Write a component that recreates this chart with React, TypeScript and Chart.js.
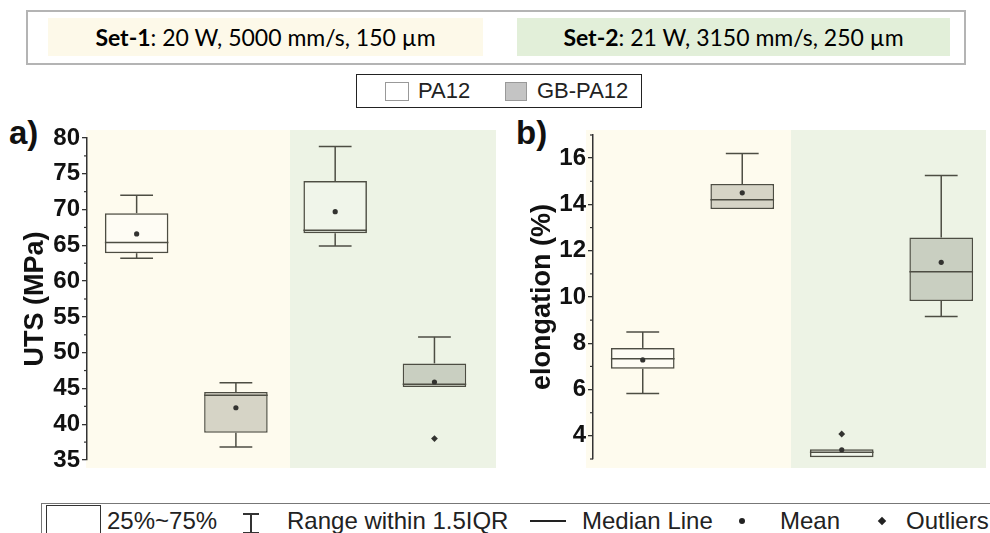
import React, { useEffect, useRef } from "react";
import { Chart, registerables } from "chart.js";
Chart.register(...registerables);

// ---- data ----
const groups = ["PA12", "GB-PA12", "PA12", "GB-PA12"];
const sets = ["Set-1", "Set-1", "Set-2", "Set-2"];
const xPositions = [1, 2, 3, 4];

const utsMin = [63.2, 36.8, 64.9, 45.2];
const utsQ1 = [63.9, 38.8, 66.7, 45.2];
const utsMedian = [65.4, 44.05, 67.1, 45.6];
const utsQ3 = [69.5, 44.5, 74.0, 48.5];
const utsMax = [72.0, 45.8, 78.8, 52.2];
const utsMean = [66.6, 42.3, 69.7, 45.9];
const utsOutlierX = [4];
const utsOutlierY = [38.0];

const elMin = [5.83, 13.8, 3.08, 9.16];
const elQ1 = [6.9, 13.8, 3.08, 9.83];
const elMedian = [7.33, 14.2, 3.29, 11.09];
const elQ3 = [7.8, 14.88, 3.42, 12.57];
const elMax = [8.49, 16.2, 3.42, 15.25];
const elMean = [7.28, 14.5, 3.4, 11.5];
const elOutlierX = [3];
const elOutlierY = [4.08];

const utsMajorTicks = [35, 40, 45, 50, 55, 60, 65, 70, 75, 80];
const utsMinorTicks = [37.5, 42.5, 47.5, 52.5, 57.5, 62.5, 67.5, 72.5, 77.5];
const elMajorTicks = [4, 6, 8, 10, 12, 14, 16];
const elMinorTicks = [3, 5, 7, 9, 11, 13, 15, 17];

const boxFills = ["rgba(255,255,255,0.35)", "#d6d4c6", "rgba(255,255,255,0.2)", "#c9cfc1"];

const LINE = "#4d4d43";
const YELLOW = "#fefbee";
const GREEN = "#edf3e5";
const AXIS_FONT = "'Liberation Sans', Arial, sans-serif";

const boxPlotPlugin = {
  id: "boxPlotExtras",
  beforeDraw(chart: any, _args: any, o: any) {
    const { ctx } = chart;
    const xs = chart.scales.x;
    ctx.save();
    for (const b of o.bands) {
      const x0 = xs.getPixelForValue(b.from);
      const x1 = xs.getPixelForValue(b.to);
      ctx.fillStyle = b.color;
      ctx.fillRect(x0, o.bandTop, x1 - x0, o.bandBottom - o.bandTop);
    }
    ctx.restore();
  },
  afterDatasetDraw(chart: any, args: any, o: any) {
    if (args.index !== 0) return;
    const { ctx } = chart;
    const xs = chart.scales.x;
    const ys = chart.scales.y;
    const meta = chart.getDatasetMeta(0);
    ctx.save();
    ctx.strokeStyle = LINE;
    ctx.lineWidth = 1.5;
    o.pos.forEach((p: number, i: number) => {
      const cx = xs.getPixelForValue(p);
      const cl = xs.getPixelForValue(p - o.capHalf);
      const cr = xs.getPixelForValue(p + o.capHalf);
      const seg = (x0: number, y0: number, x1: number, y1: number) => {
        ctx.beginPath();
        ctx.moveTo(x0, y0);
        ctx.lineTo(x1, y1);
        ctx.stroke();
      };
      if (o.max[i] > o.q3[i]) {
        const yq = ys.getPixelForValue(o.q3[i]);
        const ym = ys.getPixelForValue(o.max[i]);
        seg(cx, yq, cx, ym);
        seg(cl, ym, cr, ym);
      }
      if (o.min[i] < o.q1[i]) {
        const yq = ys.getPixelForValue(o.q1[i]);
        const ym = ys.getPixelForValue(o.min[i]);
        seg(cx, yq, cx, ym);
        seg(cl, ym, cr, ym);
      }
      const bar = meta.data[i];
      const ymed = ys.getPixelForValue(o.median[i]);
      seg(bar.x - bar.width / 2, ymed, bar.x + bar.width / 2, ymed);
    });
    ctx.restore();
  },
  afterDraw(chart: any, _args: any, o: any) {
    const { ctx } = chart;
    const ys = chart.scales.y;
    const left = chart.chartArea.left;
    ctx.save();
    ctx.strokeStyle = "#333";
    ctx.lineWidth = 1.2;
    for (const v of o.minorTicks) {
      const y = ys.getPixelForValue(v);
      ctx.beginPath();
      ctx.moveTo(left - 3, y);
      ctx.lineTo(left, y);
      ctx.stroke();
    }
    ctx.restore();
  },
};

function BoxChart(props: any) {
  const ref = useRef<HTMLCanvasElement>(null);
  useEffect(() => {
    const p = props;
    const chart = new Chart(ref.current as HTMLCanvasElement, {
      type: "bar",
      data: {
        datasets: [
          {
            type: "bar",
            order: 2,
            data: xPositions.map((x, i) => ({ x, y: [p.q1[i], p.q3[i]] })),
            backgroundColor: boxFills,
            borderColor: LINE,
            borderWidth: 1.5,
            borderSkipped: false,
            categoryPercentage: 1,
            barPercentage: 0.64,
          } as any,
          {
            type: "scatter",
            order: 1,
            data: xPositions.map((x, i) => ({ x, y: p.mean[i] })),
            pointStyle: "circle",
            pointRadius: 2.6,
            pointBackgroundColor: "#333330",
            pointBorderWidth: 0,
          } as any,
          {
            type: "scatter",
            order: 0,
            data: p.outX.map((x: number, i: number) => ({ x, y: p.outY[i] })),
            pointStyle: "rectRot",
            pointRadius: 3.4,
            pointBackgroundColor: "#333330",
            pointBorderWidth: 0,
          } as any,
        ],
      },
      options: {
        animation: false,
        responsive: true,
        maintainAspectRatio: false,
        layout: { padding: p.padding },
        plugins: {
          legend: { display: false },
          tooltip: { enabled: false },
          boxPlotExtras: {
            pos: xPositions,
            min: p.min,
            q1: p.q1,
            median: p.median,
            q3: p.q3,
            max: p.max,
            capHalf: 0.165,
            bands: p.bands,
            bandTop: 20,
            bandBottom: 358,
            minorTicks: p.minorTicks,
          },
        } as any,
        scales: {
          x: {
            type: "linear",
            display: false,
            min: 0.5,
            max: p.xMax,
            offset: false,
            afterBuildTicks: (s: any) => {
              s.ticks = xPositions.map((v) => ({ value: v }));
            },
          },
          y: {
            type: "linear",
            min: p.yMin,
            max: p.yMax,
            afterFit: (s: any) => {
              s.width = p.axisWidth;
            },
            afterBuildTicks: (s: any) => {
              s.ticks = p.majorTicks.map((v: number) => ({ value: v }));
            },
            grid: {
              drawOnChartArea: false,
              drawTicks: true,
              tickLength: 5,
              color: "#333",
              lineWidth: 1.3,
            },
            border: { display: true, color: "#333", width: 1.5 },
            ticks: {
              color: "#111",
              padding: 2,
              font: { family: AXIS_FONT, size: 24, weight: "bold" },
            },
            title: {
              display: true,
              text: p.title,
              color: "#111",
              font: { family: AXIS_FONT, size: 27, weight: "bold" },
              padding: { top: p.titlePad, bottom: 0 },
            },
          },
        },
      },
      plugins: [boxPlotPlugin as any],
    });
    return () => chart.destroy();
  }, []);
  return (
    <div style={{ position: "absolute", left: props.left, top: props.top, width: props.width, height: props.height }}>
      <canvas ref={ref} />
    </div>
  );
}

const abs = (l: number, t: number, extra: any = {}) => ({ position: "absolute" as const, left: l, top: t, ...extra });

export default function App() {
  const legendFont = { fontFamily: AXIS_FONT, fontSize: 22, color: "#222", lineHeight: "22px" };
  const keyFont = { fontFamily: AXIS_FONT, fontSize: 24, color: "#222", lineHeight: "24px", whiteSpace: "nowrap" as const };
  return (
    <div style={{ position: "absolute", left: 0, top: 0, width: 990, height: 533, background: "#fff", overflow: "hidden" }}>
      {/* header */}
      <div style={abs(26, 10, { width: 940, height: 55, border: "2px solid #b4b4b4", boxSizing: "border-box" })} />
      <div
        style={abs(48, 18, {
          width: 435, height: 38, background: "#fdf9e9", display: "flex", alignItems: "center", justifyContent: "center",
          fontFamily: "Lato, sans-serif", fontSize: 23, color: "#000",
        })}
      >
        <span><b>{sets[0]}</b>: 20 W, 5000 mm/s, 150 µm</span>
      </div>
      <div
        style={abs(517, 18, {
          width: 433, height: 38, background: "#e2efd9", display: "flex", alignItems: "center", justifyContent: "center",
          fontFamily: "Lato, sans-serif", fontSize: 23, color: "#000",
        })}
      >
        <span><b>{sets[2]}</b>: 21 W, 3150 mm/s, 250 µm</span>
      </div>

      {/* series legend */}
      <div style={abs(356, 74, { width: 286, height: 34, border: "1.5px solid #222", boxSizing: "border-box" })} />
      <div style={abs(385, 82, { width: 24, height: 19, border: "1px solid #999", boxSizing: "border-box", background: "#fff" })} />
      <div style={abs(418, 80, legendFont)}>{groups[0]}</div>
      <div style={abs(505, 82, { width: 22, height: 19, border: "1px solid #999", boxSizing: "border-box", background: "#c4c4c4" })} />
      <div style={abs(537, 80, legendFont)}>{groups[1]}</div>

      {/* panel labels */}
      <div style={abs(9, 114, { fontFamily: AXIS_FONT, fontWeight: "bold", fontSize: 33, lineHeight: "38px", color: "#111" })}>a)</div>
      <div style={abs(516, 114, { fontFamily: AXIS_FONT, fontWeight: "bold", fontSize: 33, lineHeight: "38px", color: "#111" })}>b)</div>

      <BoxChart
        left={0} top={110} width={500} height={370}
        padding={{ top: 28, bottom: 20, left: 0, right: 0 }}
        axisWidth={87} xMax={4.62} yMin={35} yMax={80}
        majorTicks={utsMajorTicks} minorTicks={utsMinorTicks}
        title="UTS (MPa)" titlePad={19}
        min={utsMin} q1={utsQ1} median={utsMedian} q3={utsQ3} max={utsMax} mean={utsMean}
        outX={utsOutlierX} outY={utsOutlierY}
        bands={[{ from: 0.49, to: 2.545, color: YELLOW }, { from: 2.545, to: 4.62, color: GREEN }]}
      />
      <BoxChart
        left={495} top={110} width={495} height={370}
        padding={{ top: 25, bottom: 21, left: 0, right: 0 }}
        axisWidth={98} xMax={4.45} yMin={3} yMax={17}
        majorTicks={elMajorTicks} minorTicks={elMinorTicks}
        title="elongation (%)" titlePad={31}
        min={elMin} q1={elQ1} median={elMedian} q3={elQ3} max={elMax} mean={elMean}
        outX={elOutlierX} outY={elOutlierY}
        bands={[{ from: 0.43, to: 2.49, color: YELLOW }, { from: 2.49, to: 4.45, color: GREEN }]}
      />

      {/* box key legend */}
      <div style={abs(41, 503, { width: 1000, height: 40, border: "1.5px solid #777", boxSizing: "border-box" })} />
      <div style={abs(46, 505, { width: 55, height: 40, border: "1.5px solid #333", boxSizing: "border-box", background: "#fff" })} />
      <div style={abs(107, 509, keyFont)}>25%~75%</div>
      <div style={abs(243, 513, { width: 16, height: 1.5, background: "#333" })} />
      <div style={abs(250, 513, { width: 1.5, height: 20, background: "#333" })} />
      <div style={abs(243, 532, { width: 16, height: 1.5, background: "#333" })} />
      <div style={abs(287, 509, keyFont)}>Range within 1.5IQR</div>
      <div style={abs(530, 520, { width: 36, height: 2, background: "#222" })} />
      <div style={abs(582, 509, keyFont)}>Median Line</div>
      <div style={abs(739, 518, { width: 6, height: 6, borderRadius: 3, background: "#222" })} />
      <div style={abs(780, 509, keyFont)}>Mean</div>
      <div style={abs(879, 518, { width: 6, height: 6, transform: "rotate(45deg)", background: "#222" })} />
      <div style={abs(906, 509, keyFont)}>Outliers</div>
    </div>
  );
}
